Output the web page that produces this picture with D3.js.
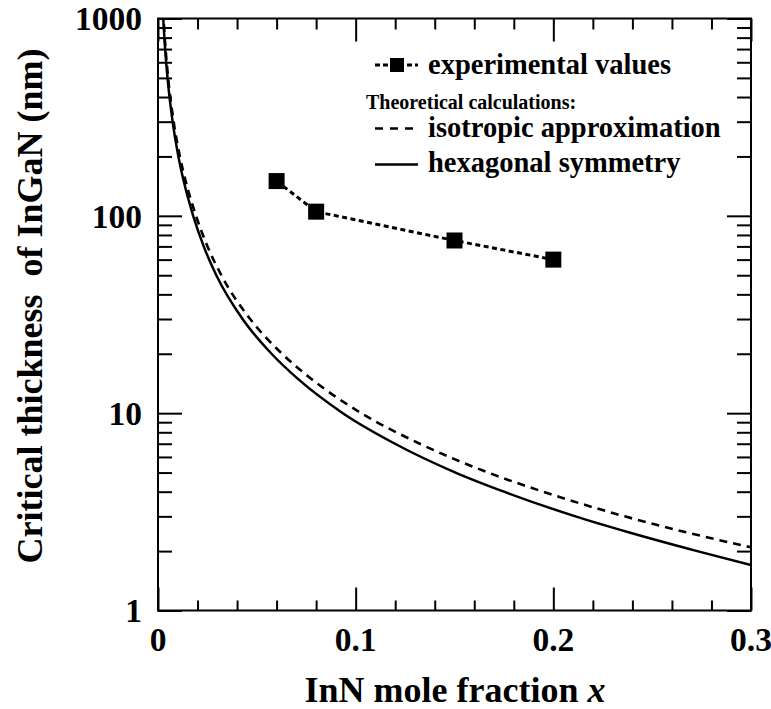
<!DOCTYPE html>
<html>
<head>
<meta charset="utf-8">
<script src="https://cdn.jsdelivr.net/npm/d3@7"></script>
<style>
  html, body { margin: 0; padding: 0; background: #fff; }
  svg { display: block; }
  text { font-family: "Liberation Serif", "Times New Roman", serif; font-weight: bold; fill: #000; }
</style>
</head>
<body>
<svg id="chart" width="771" height="709"></svg>
<script>
// hexagonal symmetry: InN mole fraction and critical thickness (nm)
const hexX = [0.00211, 0.00265, 0.00361, 0.00481, 0.0074, 0.01032, 0.013, 0.0178, 0.02313, 0.0295,
              0.04277, 0.05745, 0.0705, 0.0935, 0.1199, 0.1505, 0.175, 0.2112, 0.2376, 0.2728, 0.3];
const hexY = [1300, 1000, 700, 500, 300, 200, 150, 100, 70, 50,
              30, 20, 15, 10, 7, 5, 4, 3, 2.5, 2, 1.7];
// isotropic approximation: InN mole fraction and critical thickness (nm)
const isoX = [0.00224, 0.00281, 0.00384, 0.00513, 0.00792, 0.01108, 0.01399, 0.01922, 0.02505, 0.03204,
              0.04662, 0.06279, 0.07727, 0.10285, 0.1325, 0.16706, 0.19478, 0.23612, 0.26659, 0.3];
const isoY = [1300, 1000, 700, 500, 300, 200, 150, 100, 70, 50,
              30, 20, 15, 10, 7, 5, 4, 3, 2.5, 2.09];
// measured critical thickness
const expX = [0.06, 0.08, 0.15, 0.20];
const expY = [150, 105, 75, 60];

const xMajor = [0, 0.1, 0.2, 0.3];
const xMajorLabels = ["0", "0.1", "0.2", "0.3"];
const xMinor = [0.02, 0.04, 0.06, 0.08, 0.12, 0.14, 0.16, 0.18, 0.22, 0.24, 0.26, 0.28];
const yMajor = [1, 10, 100, 1000];
const yMajorLabels = ["1", "10", "100", "1000"];
const yMinor = [2, 3, 4, 5, 6, 7, 8, 9, 20, 30, 40, 50, 60, 70, 80, 90, 200, 300, 400, 500, 600, 700, 800, 900];

const svg = d3.select("#chart");
const L = 158, R = 751, T = 18.5, B = 610.5;

const x = d3.scaleLinear().domain([0, 0.3]).range([L, R]);
const y = d3.scaleLog().domain([1, 1000]).range([B, T]);

svg.append("defs").append("clipPath").attr("id", "plotClip")
  .append("rect").attr("x", L).attr("y", T).attr("width", R - L).attr("height", B - T);

// axes with inward ticks on all four sides
function styleAxis(g) {
  g.select(".domain").remove();
  g.selectAll("line").attr("stroke", "#000").attr("stroke-width", 2);
  g.selectAll("text").remove();
}
svg.append("g").attr("transform", `translate(0,${B})`)
  .call(d3.axisBottom(x).tickValues(xMajor).tickSize(-23)).call(styleAxis);
svg.append("g").attr("transform", `translate(0,${B})`)
  .call(d3.axisBottom(x).tickValues(xMinor).tickSize(-10)).call(styleAxis);
svg.append("g").attr("transform", `translate(0,${T})`)
  .call(d3.axisTop(x).tickValues(xMajor).tickSize(-23)).call(styleAxis);
svg.append("g").attr("transform", `translate(0,${T})`)
  .call(d3.axisTop(x).tickValues(xMinor).tickSize(-11)).call(styleAxis);
svg.append("g").attr("transform", `translate(${L},0)`)
  .call(d3.axisLeft(y).tickValues(yMajor).tickSize(-24)).call(styleAxis);
svg.append("g").attr("transform", `translate(${L},0)`)
  .call(d3.axisLeft(y).tickValues(yMinor).tickSize(-14)).call(styleAxis);
svg.append("g").attr("transform", `translate(${R},0)`)
  .call(d3.axisRight(y).tickValues(yMajor).tickSize(-24)).call(styleAxis);
svg.append("g").attr("transform", `translate(${R},0)`)
  .call(d3.axisRight(y).tickValues(yMinor).tickSize(-14)).call(styleAxis);

// frame
svg.append("rect").attr("x", L).attr("y", T).attr("width", R - L).attr("height", B - T)
  .attr("fill", "none").attr("stroke", "#000").attr("stroke-width", 2);

// tick labels
svg.append("g").selectAll("text").data(xMajor).join("text")
  .attr("x", d => x(d)).attr("y", 650.5).attr("text-anchor", "middle")
  .attr("font-size", 33.5).text((d, i) => xMajorLabels[i]);
svg.append("g").selectAll("text").data(yMajor).join("text")
  .attr("x", 142).attr("y", d => y(d)).attr("dy", "0.35em").attr("text-anchor", "end")
  .attr("font-size", 33.5).text((d, i) => yMajorLabels[i]);

// axis titles
const xt = svg.append("text").attr("x", 455).attr("y", 701.5).attr("text-anchor", "middle")
  .attr("font-size", 36);
xt.append("tspan").text("InN mole fraction ");
xt.append("tspan").attr("font-style", "italic").text("x");

svg.append("text").attr("transform", "translate(42,306) rotate(-90)")
  .attr("text-anchor", "middle").attr("font-size", 36).style("white-space", "pre")
  .text("Critical thickness  of InGaN (nm)");

// theoretical curves
const plot = svg.append("g").attr("clip-path", "url(#plotClip)");
const line = d3.line().x(d => x(d[0])).y(d => y(d[1])).curve(d3.curveMonotoneX);

plot.append("path").datum(isoX.map((v, i) => [v, isoY[i]]))
  .attr("d", line).attr("fill", "none").attr("stroke", "#000")
  .attr("stroke-width", 2.6).attr("stroke-dasharray", "8,6");
plot.append("path").datum(hexX.map((v, i) => [v, hexY[i]]))
  .attr("d", line).attr("fill", "none").attr("stroke", "#000").attr("stroke-width", 2.5);

// experimental values
const expPts = expX.map((v, i) => [v, expY[i]]);
plot.append("path").datum(expPts)
  .attr("d", d3.line().x(d => x(d[0])).y(d => y(d[1])))
  .attr("fill", "none").attr("stroke", "#000").attr("stroke-width", 3).attr("stroke-dasharray", "5,3.5");
plot.selectAll("rect.pt").data(expPts).join("rect").attr("class", "pt")
  .attr("x", d => x(d[0]) - 8).attr("y", d => y(d[1]) - 8)
  .attr("width", 16).attr("height", 16).attr("fill", "#000");

// legend
const lg = svg.append("g");
lg.append("line").attr("x1", 375).attr("x2", 418).attr("y1", 65).attr("y2", 65)
  .attr("stroke", "#000").attr("stroke-width", 3).attr("stroke-dasharray", "5,3");
lg.append("rect").attr("x", 390).attr("y", 58).attr("width", 14).attr("height", 14).attr("fill", "#000");
lg.append("text").attr("x", 428).attr("y", 73.5).attr("font-size", 28.5).text("experimental values");
lg.append("text").attr("x", 366).attr("y", 108.5).attr("font-size", 20).text("Theoretical calculations:");
lg.append("line").attr("x1", 375).attr("x2", 420).attr("y1", 128.5).attr("y2", 128.5)
  .attr("stroke", "#000").attr("stroke-width", 2.6).attr("stroke-dasharray", "8,7");
lg.append("text").attr("x", 428).attr("y", 137).attr("font-size", 28.5).text("isotropic approximation");
lg.append("line").attr("x1", 375).attr("x2", 418).attr("y1", 164.5).attr("y2", 164.5)
  .attr("stroke", "#000").attr("stroke-width", 2.5);
lg.append("text").attr("x", 428).attr("y", 172).attr("font-size", 28.5).text("hexagonal symmetry");
</script>
</body>
</html>
